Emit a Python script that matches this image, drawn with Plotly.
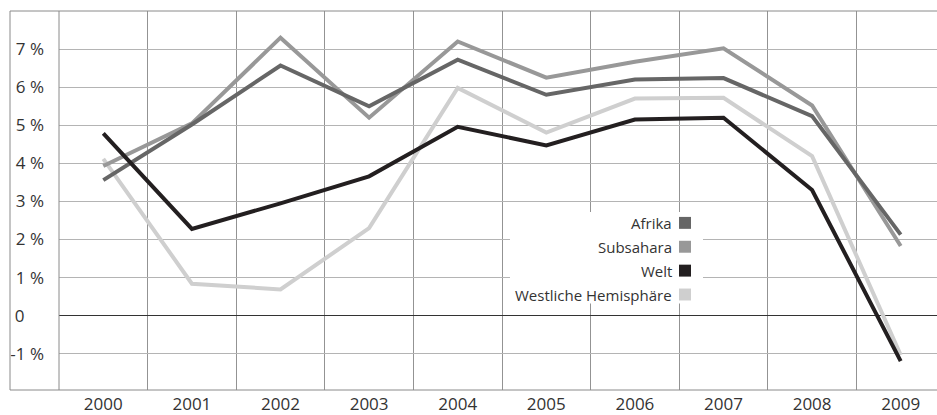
import plotly.graph_objects as go

years = ["2000", "2001", "2002", "2003", "2004", "2005", "2006", "2007", "2008", "2009"]
afrika = [3.56, 5.02, 6.57, 5.50, 6.72, 5.80, 6.20, 6.24, 5.24, 2.13]
subsahara = [3.93, 5.05, 7.30, 5.20, 7.20, 6.25, 6.67, 7.02, 5.52, 1.83]
welt = [4.79, 2.28, 2.95, 3.66, 4.96, 4.47, 5.15, 5.20, 3.30, -1.19]
westlich = [4.12, 0.84, 0.69, 2.30, 5.98, 4.81, 5.70, 5.72, 4.19, -1.03]

series_names = ["Afrika", "Subsahara", "Welt", "Westliche Hemisphäre"]
series_values = [afrika, subsahara, welt, westlich]
series_colors = ["#666666", "#989898", "#231f20", "#cfcfcf"]

y_ticks = [-1, 0, 1, 2, 3, 4, 5, 6, 7]
y_ticklabels = ["-1 %", "0\u2007\u2007", "1 %", "2 %", "3 %", "4 %", "5 %", "6 %", "7 %"]

FONT = "Open Sans"
W, H = 937, 415
L, R, T, B = 59, 0, 11, 23
pw, ph = W - L - R, H - T - B

def px_x(p):
    return (p - L) / pw

def px_y(p):
    return (H - B - p) / ph

fig = go.Figure()
order = [3, 1, 0, 2]
for i in order:
    fig.add_trace(go.Scatter(
        x=years, y=series_values[i], name=series_names[i], mode="lines",
        line=dict(color=series_colors[i], width=4), showlegend=False,
    ))

shapes = []
fl = px_x(10)
frame = dict(color="#8a8a8a", width=1)
shapes.append(dict(type="line", xref="paper", yref="paper", x0=fl, x1=fl, y0=0, y1=1, line=frame))
shapes.append(dict(type="line", xref="paper", yref="paper", x0=fl, x1=1, y0=1, y1=1, line=frame))
shapes.append(dict(type="line", xref="paper", yref="paper", x0=fl, x1=1, y0=0, y1=0, line=frame))
shapes.append(dict(type="line", xref="paper", yref="paper", x0=0, x1=0, y0=0, y1=1, line=frame))

shapes.append(dict(type="rect", xref="paper", yref="paper",
                   x0=px_x(510), x1=px_x(703), y0=px_y(305), y1=px_y(213),
                   fillcolor="white", line=dict(width=0), layer="above"))
annotations = []
entry_y = [224, 248, 272, 296]
for name, col, ey in zip(series_names, series_colors, entry_y):
    annotations.append(dict(xref="paper", yref="paper", x=px_x(674), y=px_y(ey),
                            text=name, showarrow=False, xanchor="right", yanchor="middle",
                            font=dict(family=FONT, size=15, color="#333333")))
    shapes.append(dict(type="rect", xref="paper", yref="paper",
                       x0=px_x(679), x1=px_x(691), y0=px_y(ey + 6), y1=px_y(ey - 6),
                       fillcolor=col, line=dict(width=0), layer="above"))

fig.update_layout(
    width=W, height=H,
    margin=dict(l=L, r=R, t=T, b=B, pad=0),
    paper_bgcolor="white", plot_bgcolor="white",
    font=dict(family=FONT, size=17, color="#333333"),
    shapes=shapes, annotations=annotations,
    showlegend=False,
)
fig.update_xaxes(
    type="category", range=[-0.5, -0.5 + pw / 88.6],
    tickson="boundaries", showgrid=True, gridcolor="#939393", gridwidth=1,
    ticks="", showline=False, zeroline=False, ticklabelstandoff=2,
    tickfont=dict(family=FONT, size=17, color="#333333"),
)
fig.update_yaxes(
    range=[-1.95, 8], tickvals=y_ticks, ticktext=y_ticklabels,
    showgrid=True, gridcolor="#b4b4b4", gridwidth=1,
    zeroline=True, zerolinecolor="#333333", zerolinewidth=1,
    ticks="", showline=False, ticklabelstandoff=14,
    tickfont=dict(family=FONT, size=17, color="#333333"),
)

fig.write_html("out.html", config={"displayModeBar": False},
               post_script="document.body.style.margin='0';document.body.style.overflow='hidden';")
